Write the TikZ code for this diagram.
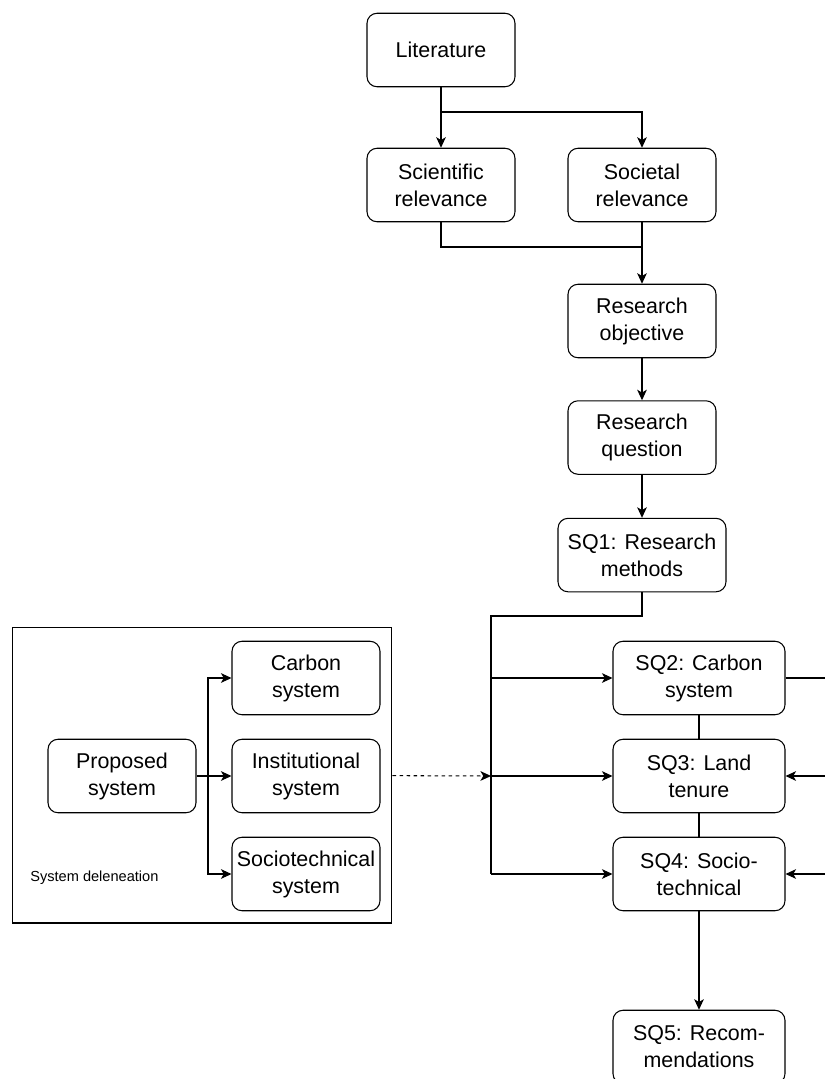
\documentclass[tikz,border=0pt]{standalone}
\usepackage{fontspec}
\setmainfont{Liberation Sans}
\usetikzlibrary{positioning,calc,arrows.meta}

\tikzset{
  box/.style={draw, rounded corners=0.2cm, align=center, line width=0.6pt,
    minimum width=2.96cm, minimum height=1.47cm, inner sep=1pt,
    font=\fontsize{12.2}{15.4}\selectfont},
  sqbox/.style={box, minimum width=3.44cm},
  arr/.style={-{Stealth[length=6pt,width=5.5pt,inset=1.6pt]}, line width=0.6pt},
  link/.style={line width=0.6pt},
}

\begin{document}
\begin{tikzpicture}[x=0.02cm, y=-0.02cm]
  \useasboundingbox (0,0) rectangle (825,1079);
  \clip (0,0) rectangle (825,1079);
  % main column
  \node[box]                  (lit) at (441,50)  {Literature};
  \node[box]                  (sci) at (441,185) {Scientific\\relevance};
  \node[box]                  (soc) at (642,185) {Societal\\relevance};
  \node[box]                  (obj) at (642,321) {Research\\objective};
  \node[box, below=0.84cm of obj] (rq) {Research\\question};
  \node[box, minimum width=3.36cm, below=0.86cm of rq] (sq1) {SQ1: Research\\methods};
  % sub-questions
  \node[sqbox] (sq2) at (699,678)  {SQ2: Carbon\\system};
  \node[sqbox] (sq3) at (699,776)  {SQ3: Land\\tenure};
  \node[sqbox] (sq4) at (699,874)  {SQ4: Socio-\\technical};
  \node[sqbox] (sq5) at (699,1047) {SQ5: Recom-\\mendations};
  % system delineation block
  \node[draw, line width=0.6pt, minimum width=7.6cm, minimum height=5.92cm] (sysbox) at (202,775) {};
  \node[box] (prop)  at (122,776) {Proposed\\system};
  \node[box] (carb)  at (306,678) {Carbon\\system};
  \node[box] (inst)  at (306,776) {Institutional\\system};
  \node[box] (stech) at (306,874) {Sociotechnical\\system};
  \node[anchor=west, inner sep=0pt, font=\fontsize{8.3}{10}\selectfont] (dlabel) at (30,878) {System deleneation};
  % junction points
  \coordinate (split) at (441,112);
  \coordinate (merge) at (642,247);
  \coordinate (bus)   at (491,616);
  \coordinate (fork)  at (208,776);
  \coordinate (out2)  at (830,678);
  \coordinate (in3)   at (830,776);
  \coordinate (in4)   at (830,874);
  % connectors
  \draw[arr] (lit) -- (sci);
  \draw[arr] (split) -| (soc);
  \draw[link] (sci) |- (merge);
  \draw[arr] (soc) -- (obj);
  \draw[arr] (obj) -- (rq);
  \draw[arr] (rq) -- (sq1);
  \draw[link] (sq1) |- (bus) -- (bus |- sq4);
  \draw[arr] (bus |- sq2) -- (sq2);
  \draw[arr] (bus |- sq3) -- (sq3);
  \draw[arr] (bus |- sq4) -- (sq4);
  \draw[arr, dash pattern=on 2pt off 2pt] (sysbox) -- (bus |- sq3);
  \draw[link] (sq2) -- (sq3);
  \draw[link] (sq3) -- (sq4);
  \draw[arr] (sq4) -- (sq5);
  \draw[link] (sq2) -- (out2);
  \draw[arr] (in3) -- (sq3);
  \draw[arr] (in4) -- (sq4);
  \draw[link] (prop) -- (fork);
  \draw[arr] (fork) -- (inst);
  \draw[arr] (fork) |- (carb);
  \draw[arr] (fork) |- (stech);
\end{tikzpicture}
\end{document}
